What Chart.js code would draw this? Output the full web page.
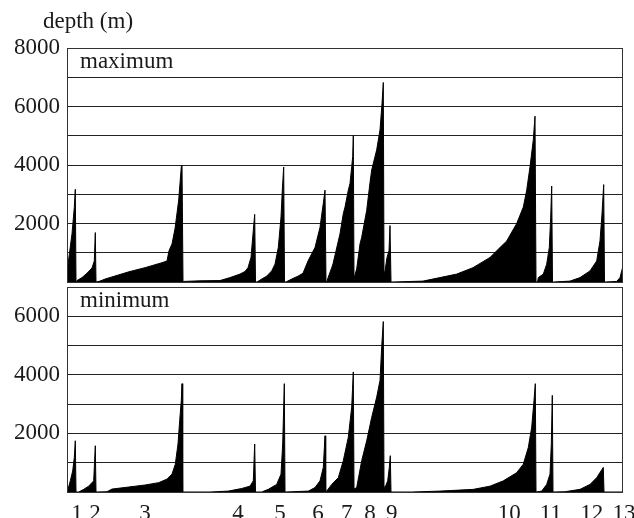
<!DOCTYPE html>
<html>
<head>
<meta charset="utf-8">
<script src="https://cdn.jsdelivr.net/npm/chart.js@4.4.1/dist/chart.umd.min.js"></script>
<style>
  html, body { margin:0; padding:0; background:#fff; }
  #wrap { position:relative; width:634px; height:518px; }
  canvas { position:absolute; left:0; }
  #cMax { top:0; }
  #cMin { top:285px; }
</style>
</head>
<body>
<div id="wrap">
  <canvas id="cMax" width="634" height="285" style="width:634px;height:285px"></canvas>
  <canvas id="cMin" width="634" height="233" style="width:634px;height:233px"></canvas>
</div>
<script>
// sorted depths per group (position along the axis, depth in m)
const maxPos = [0,1,5,7.3,8.3,9, 10,15,20,25,27.3,28.3,29,
  33,38,62,78,95,100,102,105,108,111.7,114.3,115,116,
  117,133,153,163,173,178,181,184,186,187.7,188.5,
  190,194.7,199.7,204.7,208,211.3,214,215.3,216.7,217.5,
  219,224.7,231,236,241,248,253,256.3,258,259,
  260,261,264.7,266,271.3,273,276.3,278,281.3,283,284.7,285.7,286.3,287,
  289.7,293,294.7,299.7,303,304.7,309.7,313,315,316.3,317,
  318,320,322,323,324,
  325,356,389.7,406,423,433,439.7,449.7,456.3,459.7,463,466.3,468,469,
  470.5,471.3,476.3,479.7,482.3,483.7,484.7,485.5,
  486.3,503,513,523,529.7,533,535,536.7,537.5,
  538,549.7,553,556];
const maxDepth = [300,600,1650,2550,3170,0, 50,150,300,480,720,1690,0,
  30,100,350,490,660,720,1070,1300,1820,2800,3940,4000,0,
  20,40,50,150,270,360,490,840,1650,2310,0,
  0,100,200,380,610,1180,2220,3140,3930,0,
  0,100,200,300,720,1180,1870,2690,3140,0,
  30,140,490,620,1400,1650,2340,2560,3140,3370,3940,4290,5000,120,
  450,1300,1530,2450,3400,3830,4520,5200,6100,6820,300,
  380,840,1070,1930,0,
  0,30,270,490,840,1180,1400,2000,2560,3140,3940,4860,5670,0,
  0,150,270,610,1180,2220,3280,0,
  0,30,150,380,720,1410,2330,3330,0,
  0,20,150,550];

const minPos = [0,1,3.3,5.7,7.3,8.3,9, 11.7,16.7,21.7,26.7,28.3,29,
  40,45,61.7,78.3,91.7,100,105,108.3,111,112.7,114.3,115,115.7,
  143,161.3,174.7,183,186.3,187.7,188.5,
  194.7,201.3,209.7,214,215.7,216.7,217.3,218,
  241.3,248,253,256.3,258,258.7,
  259.7,264.7,271.3,276.3,281.3,284.7,285.5,286.3,287,
  289.7,294.7,299.7,304.7,309.7,313,314.7,316.3,317,
  318,320.7,322.3,323.3,324,
  344.7,373,406.3,423,436.3,449.7,456.3,461.3,464.7,467,468.3,469,
  474.7,479.7,483,484.3,485.3,486,
  498,513,523,529.7,536.3,537,
  556];
const minDepth = [30,90,380,720,1180,1750,0, 0,90,200,380,1580,0,
  10,100,170,240,320,440,610,950,1640,2440,3130,3700,0,
  0,30,120,200,380,1640,0,
  0,90,260,610,1640,2900,3700,0,
  30,150,380,840,1920,0,
  30,260,490,1070,1870,2900,3500,4100,100,
  150,1070,1750,2550,3240,3810,4960,5820,200,
  150,380,840,1240,0,
  0,30,90,200,380,660,950,1520,2210,3130,3700,0,
  30,260,610,1640,3300,0,
  10,90,260,490,840,0,
  0];

const groupTickPos = [10,28,78,171,213,251,279.7,303,324.7,442.3,483.7,524.7,557];
const groupTickText = ['1','2','3','4','5','6','7','8','9','10','11','12','13'];

const serif = "'Liberation Serif', 'DejaVu Serif', serif";
const ink = '#1a1a1a';

const framePlugin = {
  id: 'frame',
  afterDatasetsDraw(chart, args, opts) {
    const a = chart.chartArea, ctx = chart.ctx;
    ctx.save();
    ctx.strokeStyle = '#333';
    ctx.lineWidth = 1;
    ctx.strokeRect(a.left + 0.5, a.top + 0.5, a.right - a.left - 1, a.bottom - a.top);
    ctx.fillStyle = ink;
    ctx.font = '23px ' + serif;
    ctx.textBaseline = 'middle';
    ctx.textAlign = 'left';
    if (opts.panel) ctx.fillText(opts.panel, a.left + 13, a.top + 14);
    if (opts.axisTitle) ctx.fillText(opts.axisTitle, a.left - 24, a.top - 26);
    ctx.restore();
  }
};

function makePanel(id, pos, depth, yMax, panel, axisTitle, showX) {
  return new Chart(document.getElementById(id), {
    type: 'line',
    data: {
      datasets: [{
        data: pos.map((p, i) => ({ x: p, y: depth[i] })),
        borderColor: '#000',
        backgroundColor: '#000',
        borderWidth: 1,
        pointRadius: 0,
        tension: 0,
        fill: 'origin'
      }]
    },
    options: {
      responsive: false,
      animation: false,
      devicePixelRatio: 1,
      layout: { padding: showX ? { top: 2, right: 11, bottom: 0, left: 0 }
                               : { top: 48, right: 11, bottom: 3, left: 0 } },
      plugins: {
        legend: { display: false },
        tooltip: { enabled: false },
        frame: { panel: panel, axisTitle: axisTitle }
      },
      scales: {
        x: {
          type: 'linear',
          min: 0, max: 556,
          display: showX,
          grid: { display: false },
          border: { display: false },
          afterBuildTicks: s => { s.ticks = groupTickPos.map(v => ({ value: v })); },
          afterFit: s => { if (showX) s.height = 26; s.paddingLeft = 0; s.paddingRight = 0; },
          ticks: {
            autoSkip: false, maxRotation: 0, padding: 0,
            color: ink, font: { family: serif, size: 23 },
            callback: v => groupTickText[groupTickPos.indexOf(v)]
          }
        },
        y: {
          min: 0, max: yMax,
          afterFit: s => { s.width = 67; s.paddingTop = 0; s.paddingBottom = 0; },
          grid: { color: '#222', lineWidth: 1, drawTicks: false },
          border: { display: false },
          ticks: {
            stepSize: 1000, autoSkip: false, padding: 7,
            color: ink, font: { family: serif, size: 23 },
            callback: v => (v > 0 && v % 2000 === 0) ? String(v) : ''
          }
        }
      }
    },
    plugins: [framePlugin]
  });
}

makePanel('cMax', maxPos, maxDepth, 8000, 'maximum', 'depth (m)', false);
makePanel('cMin', minPos, minDepth, 7000, 'minimum', null, true);
</script>
</body>
</html>
